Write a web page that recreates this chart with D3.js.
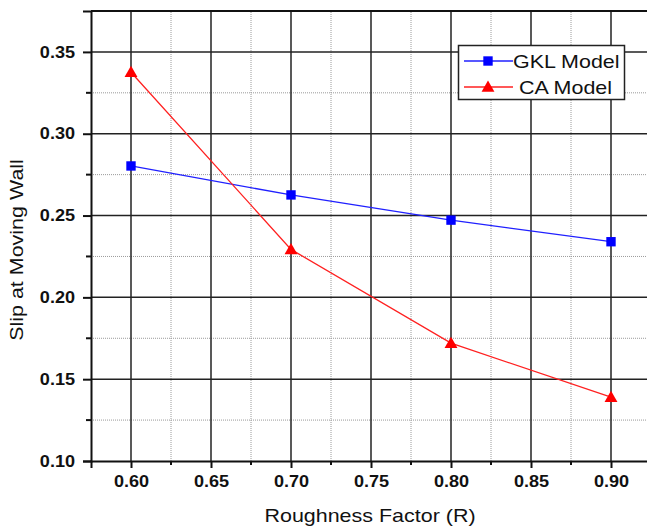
<!DOCTYPE html>
<html>
<head>
<meta charset="utf-8">
<script src="https://cdn.jsdelivr.net/npm/d3@7"></script>
<style>
	body { margin: 0; background: #fff; }
	svg { display: block; font-family: "Liberation Sans", Arial, sans-serif; }
</style>
</head>
<body>
<div id="myChart"></div>
<script>
// values
var roughness = [0.60, 0.70, 0.80, 0.90];
var gklSlip = [0.2803, 0.2626, 0.2472, 0.2340];
var caSlip = [0.3376, 0.2293, 0.1720, 0.1390];
var xTicks = [0.60, 0.65, 0.70, 0.75, 0.80, 0.85, 0.90];
var yTicks = [0.10, 0.15, 0.20, 0.25, 0.30, 0.35];
var seriesNames = ['GKL Model', 'CA Model'];

function plotChart() {
	var width = 647, height = 529;
	var margin = {left: 91, top: 11, right: -4, bottom: 68};
	var stretch = 1.13; // text in the original is a bit wider than Arial

	var svg = d3.select('#myChart')
		.append('svg')
		.attr('width', width)
		.attr('height', height);

	var x = d3.scaleLinear()
		.domain([0.575, 0.925])
		.range([margin.left, width - margin.right]);
	var y = d3.scaleLinear()
		.domain([0.10, 0.375])
		.range([height - margin.bottom, margin.top]);

	var xMinor = d3.range(0.625, 0.925, 0.05);
	var yMinor = d3.range(0.125, 0.375, 0.05);

	// minor grid (dotted)
	var grid = svg.append('g');
	grid.selectAll('.xminor')
		.data(xMinor)
		.enter().append('line')
		.attr('x1', d => x(d)).attr('x2', d => x(d))
		.attr('y1', y(0.10)).attr('y2', y(0.375))
		.attr('stroke', '#9a9a9a')
		.attr('stroke-width', 1)
		.attr('stroke-dasharray', '1,1');
	grid.selectAll('.yminor')
		.data(yMinor)
		.enter().append('line')
		.attr('x1', x(0.575)).attr('x2', x(0.925))
		.attr('y1', d => y(d)).attr('y2', d => y(d))
		.attr('stroke', '#9a9a9a')
		.attr('stroke-width', 1)
		.attr('stroke-dasharray', '1,1');

	// major grid
	grid.selectAll('.xmajor')
		.data(xTicks)
		.enter().append('line')
		.attr('x1', d => x(d)).attr('x2', d => x(d))
		.attr('y1', y(0.10)).attr('y2', y(0.375))
		.attr('stroke', '#222')
		.attr('stroke-width', 1.5);
	grid.selectAll('.ymajor')
		.data(yTicks.slice(1))
		.enter().append('line')
		.attr('x1', x(0.575)).attr('x2', x(0.925))
		.attr('y1', d => y(d)).attr('y2', d => y(d))
		.attr('stroke', '#222')
		.attr('stroke-width', 1.5);

	// top border
	svg.append('line')
		.attr('x1', x(0.575)).attr('x2', x(0.925))
		.attr('y1', y(0.375)).attr('y2', y(0.375))
		.attr('stroke', '#111')
		.attr('stroke-width', 2);

	// axes
	var xAxis = svg.append('g')
		.attr('transform', 'translate(0,' + y(0.10) + ')')
		.call(d3.axisBottom(x).tickValues(xTicks).tickFormat(d3.format('.2f')).tickSizeOuter(0).tickSize(7).tickPadding(8));
	xAxis.append('g')
		.selectAll('line')
		.data(xMinor)
		.enter().append('line')
		.attr('x1', d => x(d)).attr('x2', d => x(d))
		.attr('y1', 0).attr('y2', 4)
		.attr('stroke', '#111')
		.attr('stroke-width', 2);

	var yAxis = svg.append('g')
		.attr('transform', 'translate(' + x(0.575) + ',0)')
		.call(d3.axisLeft(y).tickValues(yTicks).tickFormat(d3.format('.2f')).tickSizeOuter(0).tickSize(8).tickPadding(6));
	yAxis.append('g')
		.selectAll('line')
		.data(yMinor)
		.enter().append('line')
		.attr('y1', d => y(d)).attr('y2', d => y(d))
		.attr('x1', 0).attr('x2', -5)
		.attr('stroke', '#111')
		.attr('stroke-width', 2);

	svg.selectAll('.domain, .tick line')
		.attr('stroke', '#111')
		.attr('stroke-width', 2);
	svg.selectAll('.tick text')
		.attr('fill', '#111')
		.attr('transform', 'scale(' + stretch + ',1)')
		.style('font-size', '16px')
		.style('font-weight', 'bold')
		.style('font-family', '"Liberation Sans", Arial, sans-serif');
	yAxis.selectAll('.tick text')
		.attr('x', -16 / stretch);

	// axis titles
	svg.append('text')
		.attr('transform', 'translate(370,522) scale(' + stretch + ',1)')
		.attr('text-anchor', 'middle')
		.style('font-size', '19px')
		.attr('fill', '#111')
		.text('Roughness Factor (R)');
	svg.append('text')
		.attr('transform', 'translate(23,250) rotate(-90) scale(' + stretch + ',1)')
		.attr('text-anchor', 'middle')
		.style('font-size', '19px')
		.attr('fill', '#111')
		.text('Slip at Moving Wall');

	// lines + markers
	var line = d3.line()
		.x(d => x(d[0]))
		.y(d => y(d[1]));

	var gkl = d3.zip(roughness, gklSlip);
	var ca = d3.zip(roughness, caSlip);

	svg.append('path')
		.datum(gkl)
		.attr('d', line)
		.attr('fill', 'none')
		.attr('stroke', '#2020ff')
		.attr('stroke-width', 1.3);
	svg.append('path')
		.datum(ca)
		.attr('d', line)
		.attr('fill', 'none')
		.attr('stroke', '#ff2020')
		.attr('stroke-width', 1.3);

	var square = d3.symbol().type(d3.symbolSquare).size(88);
	var triangle = d3.symbol().type(d3.symbolTriangle).size(72);

	svg.selectAll('.gkl')
		.data(gkl)
		.enter().append('path')
		.attr('transform', d => 'translate(' + x(d[0]) + ',' + y(d[1]) + ')')
		.attr('d', square)
		.attr('fill', '#0000ff');
	svg.selectAll('.ca')
		.data(ca)
		.enter().append('path')
		.attr('transform', d => 'translate(' + x(d[0]) + ',' + (y(d[1]) + 1) + ')')
		.attr('d', triangle)
		.attr('fill', '#ff0000');

	// legend
	var legend = svg.append('g');
	legend.append('rect')
		.attr('x', 458.5).attr('y', 45.5)
		.attr('width', 166).attr('height', 54)
		.attr('fill', '#fff')
		.attr('stroke', '#222')
		.attr('stroke-width', 1.5);

	var colors = ['#2020ff', '#ff2020'];
	var marks = [square, triangle];
	var fills = ['#0000ff', '#ff0000'];
	var textX = [513, 519];
	seriesNames.forEach(function (name, i) {
		var ly = 61 + i * 26;
		legend.append('line')
			.attr('x1', 464).attr('x2', 513)
			.attr('y1', ly).attr('y2', ly)
			.attr('stroke', colors[i])
			.attr('stroke-width', 1.3);
		legend.append('path')
			.attr('transform', 'translate(488,' + (ly + (i ? 1 : 0)) + ')')
			.attr('d', marks[i])
			.attr('fill', fills[i]);
		legend.append('text')
			.attr('transform', 'translate(' + textX[i] + ',' + (ly + 7) + ') scale(' + stretch + ',1)')
			.style('font-size', '19px')
			.attr('fill', '#111')
			.text(name);
	});
}

plotChart();
</script>
</body>
</html>
